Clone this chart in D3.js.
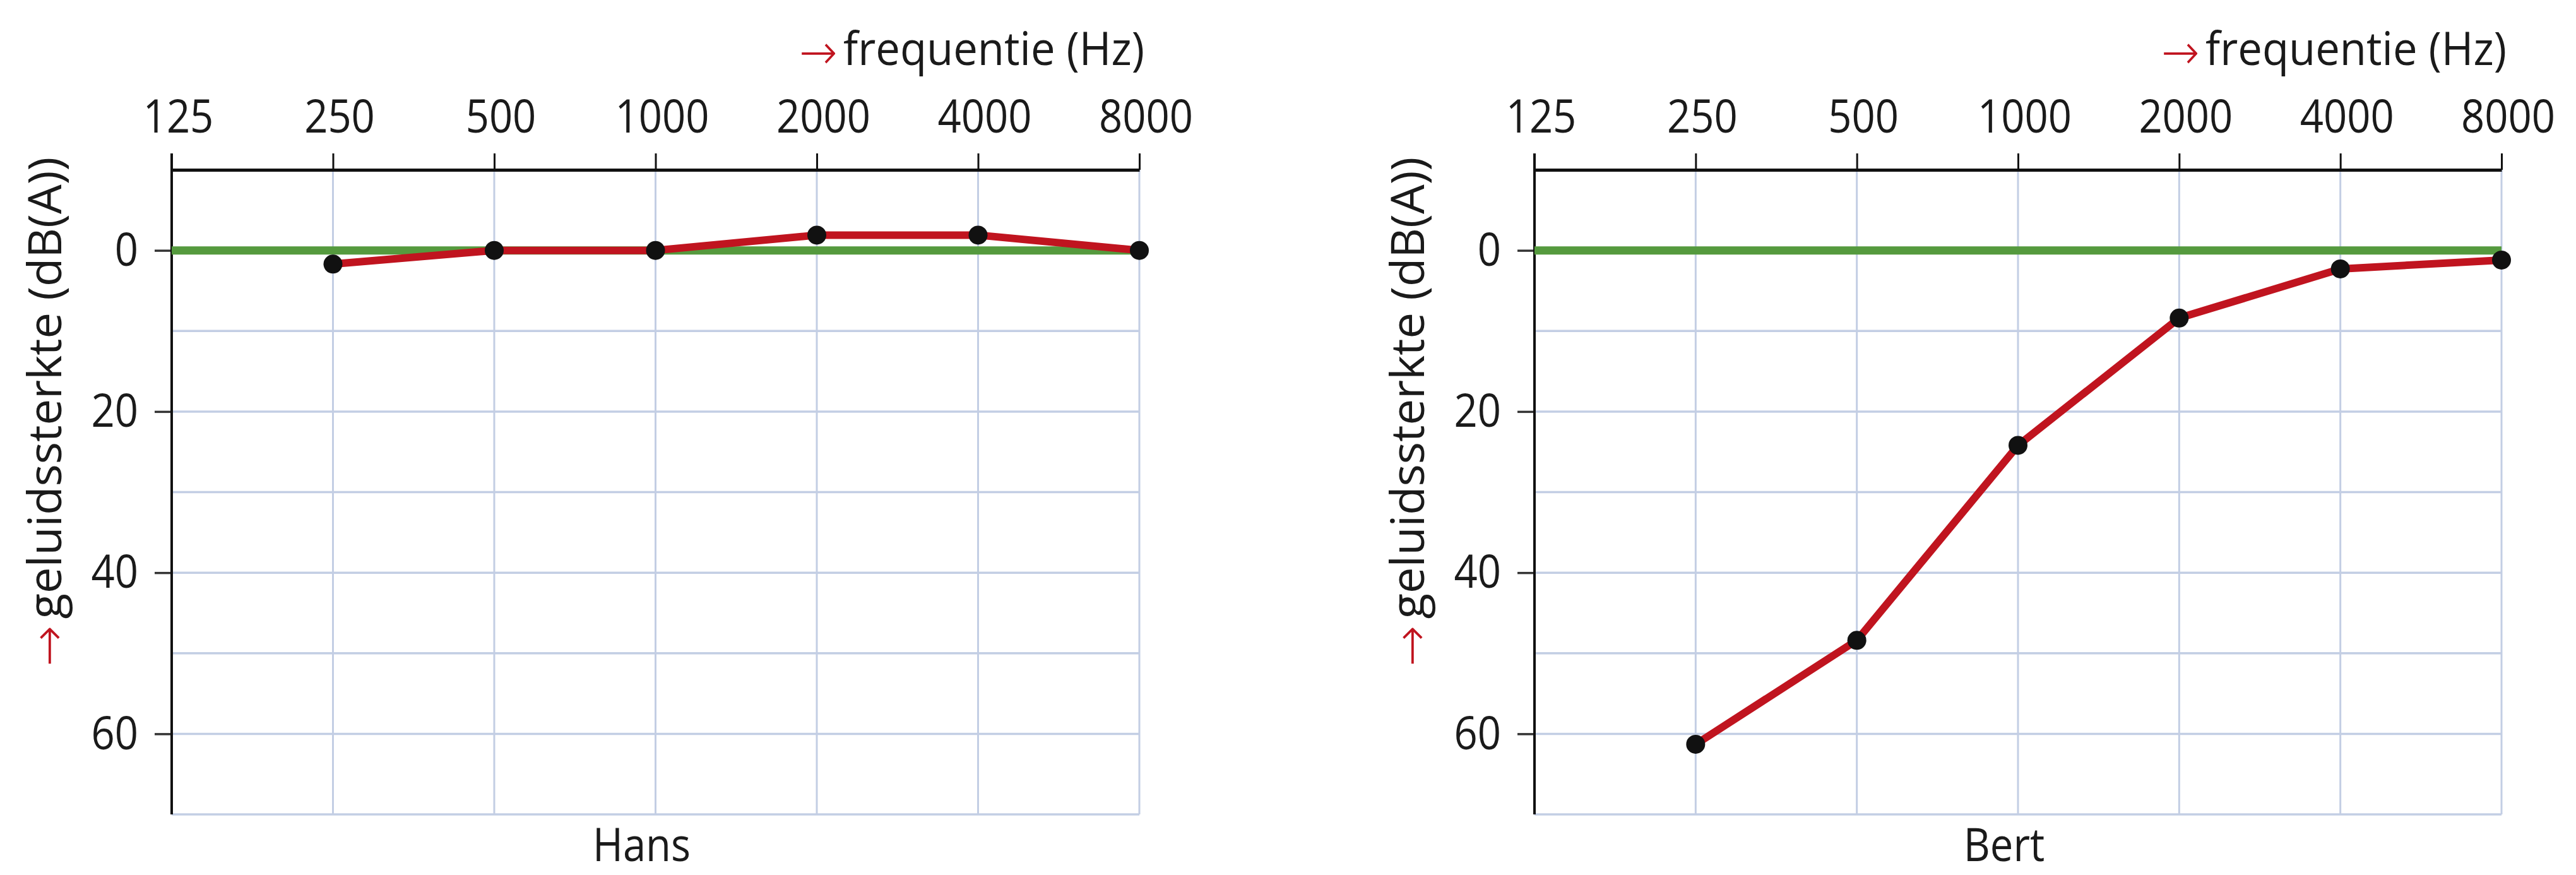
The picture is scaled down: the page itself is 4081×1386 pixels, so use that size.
<!DOCTYPE html>
<html>
<head>
<meta charset="utf-8">
<script src="https://cdn.jsdelivr.net/npm/d3@7/dist/d3.min.js"></script>
<style>
  html, body { margin: 0; padding: 0; background: #ffffff; }
  svg { display: block; }
  text { font-family: "Open Sans", "Noto Sans", "DejaVu Sans", sans-serif; fill: #1a1a1a; }
</style>
</head>
<body>
<svg id="chart" width="4081" height="1386"></svg>
<script>
// ---------- data ----------
const frequencies = [125, 250, 500, 1000, 2000, 4000, 8000];
const freqTickLabels = ["125", "250", "500", "1000", "2000", "4000", "8000"];
const dbGridValues = [0, 10, 20, 30, 40, 50, 60, 70];
const dbTickValues = [0, 20, 40, 60];
const normalValues = [0, 0, 0, 0, 0, 0, 0];            // green reference line (0 dB)
const measuredFreqs = [250, 500, 1000, 2000, 4000, 8000];
const hansValues = [1.7, 0, 0, -1.9, -1.9, 0];
const bertValues = [61.3, 48.4, 24.2, 8.4, 2.3, 1.2];
const panelNames = ["Hans", "Bert"];
const xTitle = "frequentie (Hz)";
const yTitle = "geluidssterkte (dB(A))";

// ---------- styling ----------
const FONT = 74;
const SX = 0.88;          // horizontal condensing of the lettering
const RED = "#c0141f";
const GREEN = "#559a3e";
const GRID = "#c3cee4";

const svg = d3.select("#chart");
const plotTop = 269, plotBottom = 1290;

function addArrowTitle(sel, label, arrowDy) {
  sel.append("tspan")
    .attr("fill", RED)
    .attr("font-family", "'DejaVu Sans', sans-serif")
    .attr("font-weight", 200)
    .attr("font-size", FONT * 1.05)
    .attr("dy", arrowDy)
    .text("\u2192");
  sel.append("tspan")
    .attr("dx", 10)
    .attr("dy", -arrowDy)
    .text(label);
}

function drawPanel(left, right, name, values) {
  const x = d3.scaleLog().base(2).domain([125, 8000]).range([left, right]);
  const y = d3.scaleLinear().domain([-10, 70]).range([plotTop, plotBottom]);
  const g = svg.append("g");

  // grid
  g.append("g").selectAll("line").data(frequencies.slice(1)).join("line")
    .attr("x1", d => x(d)).attr("x2", d => x(d))
    .attr("y1", plotTop).attr("y2", plotBottom)
    .attr("stroke", GRID).attr("stroke-width", 3);
  g.append("g").selectAll("line").data(dbGridValues).join("line")
    .attr("x1", left).attr("x2", right)
    .attr("y1", d => y(d)).attr("y2", d => y(d))
    .attr("stroke", GRID).attr("stroke-width", 3.5);

  // top axis
  const xAxis = d3.axisTop(x).tickValues(frequencies)
    .tickFormat((d, i) => freqTickLabels[i])
    .tickSize(26).tickSizeOuter(0).tickPadding(33);
  const xa = g.append("g").attr("transform", `translate(0,${plotTop})`).call(xAxis);
  xa.select(".domain").attr("stroke", "#111").attr("stroke-width", 5);
  xa.selectAll(".tick line").attr("stroke", "#111").attr("stroke-width", 3);
  xa.selectAll(".tick text")
    .attr("font-size", FONT).attr("fill", "#1a1a1a")
    .attr("font-family", "'Open Sans', sans-serif")
    .attr("x", 10 / SX)
    .attr("transform", `scale(${SX},1)`);

  // left axis
  const yAxis = d3.axisLeft(y).tickValues(dbTickValues).tickSize(27).tickPadding(26);
  const ya = g.append("g").attr("transform", `translate(${left},0)`).call(yAxis);
  ya.select(".domain").remove();
  ya.selectAll(".tick line").attr("stroke", "#333").attr("stroke-width", 3.5);
  ya.selectAll(".tick text")
    .attr("font-size", FONT).attr("fill", "#1a1a1a")
    .attr("font-family", "'Open Sans', sans-serif")
    .attr("x", -53 / SX)
    .attr("transform", `scale(${SX},1)`);
  g.append("line")
    .attr("x1", left).attr("x2", left)
    .attr("y1", plotTop - 26).attr("y2", plotBottom)
    .attr("stroke", "#111").attr("stroke-width", 4);

  // normal-hearing line
  const line = d3.line().x(d => x(d[0])).y(d => y(d[1]));
  g.append("path")
    .datum(frequencies.map((f, i) => [f, normalValues[i]]))
    .attr("d", line).attr("fill", "none")
    .attr("stroke", GREEN).attr("stroke-width", 13);

  // measured audiogram
  const pts = measuredFreqs.map((f, i) => [f, values[i]]);
  g.append("path").datum(pts)
    .attr("d", line).attr("fill", "none")
    .attr("stroke", RED).attr("stroke-width", 12)
    .attr("stroke-linejoin", "round");
  g.append("g").selectAll("circle").data(pts).join("circle")
    .attr("cx", d => x(d[0])).attr("cy", d => y(d[1]))
    .attr("r", 15).attr("fill", "#111");

  // x title (top right)
  const xt = g.append("text")
    .attr("transform", `translate(${right + 8},103) scale(0.93,1)`)
    .attr("text-anchor", "end").attr("font-size", FONT);
  addArrowTitle(xt, xTitle, 6);

  // y title (rotated)
  const yt = g.append("text")
    .attr("transform", `translate(${left - 175},652) rotate(-90)`)
    .attr("text-anchor", "middle").attr("font-size", FONT);
  addArrowTitle(yt, yTitle, 6);

  // panel name
  g.append("text")
    .attr("transform", `translate(${(left + right) / 2 - 22},1364) scale(${SX},1)`)
    .attr("text-anchor", "middle").attr("font-size", FONT)
    .text(name);
}

drawPanel(272, 1805, panelNames[0], hansValues);
drawPanel(2431, 3963, panelNames[1], bertValues);
</script>
</body>
</html>
